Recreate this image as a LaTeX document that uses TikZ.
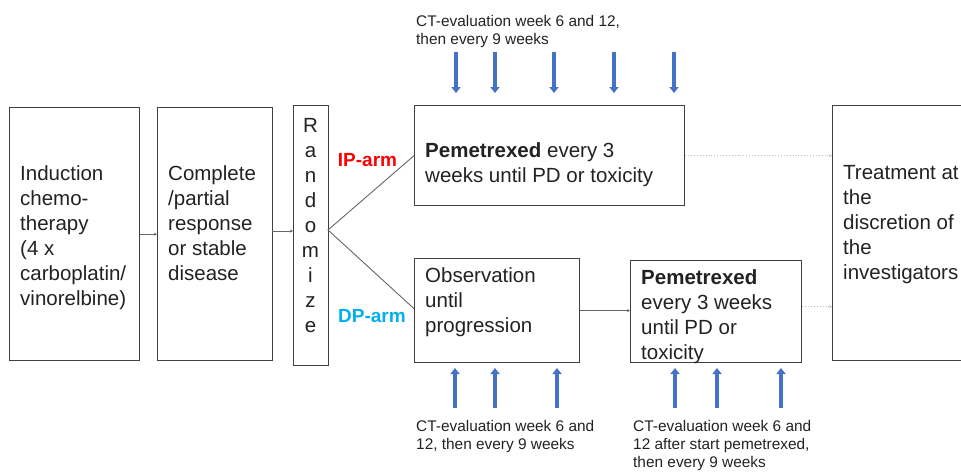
\documentclass[tikz,border=0pt]{standalone}
\usepackage{fontspec}
\setmainfont{Liberation Sans}
\usepackage{tikz}
\usetikzlibrary{calc,arrows.meta}

\definecolor{ink}{HTML}{222222}
\definecolor{frame}{HTML}{404040}
\definecolor{ctblue}{HTML}{4472C4}
\definecolor{iparm}{HTML}{FF0000}
\definecolor{dparm}{HTML}{00B0F0}

\begin{document}
\begin{tikzpicture}[
  x=1pt, y=-1pt,
  >=Stealth,
  box/.style={draw=frame, line width=1.3pt, inner sep=0pt, anchor=north west},
  body/.style={font=\fontsize{20.5}{25}\selectfont, text=ink, align=left,
    inner sep=0pt, anchor=base west},
  note/.style={font=\fontsize{15.4}{18}\selectfont, text=ink, align=left,
    inner sep=0pt, anchor=base west},
  link/.style={draw=frame!80, line width=0.9pt, -{Stealth[length=3pt,width=3pt]}},
  faint/.style={draw=black!25, line width=0.9pt, dotted, -{Stealth[length=3pt,width=3pt]}},
  ctarrow/.style={draw=ctblue, line width=3.5pt, -{Triangle[length=6pt,width=9pt]}},
  armlabel/.style={font=\fontsize{19}{21}\selectfont\bfseries, inner sep=0pt}
]
\clip (0,0) rectangle (961,472);

% --- Boxes ---
\node[box, minimum width=130, minimum height=253] (induct) at (9,107) {};
\node[box, minimum width=115, minimum height=253] (complete) at (157,107) {};
\node[box, minimum width=35, minimum height=260] (rand) at (293,105) {};
\node[box, minimum width=270, minimum height=100] (ip) at (414,105) {};
\node[box, minimum width=165, minimum height=104] (obs) at (414,258) {};
\node[box, minimum width=171, minimum height=102] (pem) at (630,260) {};
\node[box, minimum width=170, minimum height=255] (treat) at (832,105) {};

% --- Box texts (baseline of last line) ---
\node[body] (inducttxt) at (20,305)
  {Induction\\chemo-\\therapy\\(4 x\\carboplatin/\\vinorelbine)};
\node[body] (completetxt) at (168,280)
  {Complete\\/partial\\response\\or stable\\disease};
\node[body, align=center, anchor=base] (randtxt) at (310.5,332)
  {R\\a\\n\\d\\o\\m\\i\\z\\e};
\node[body] (iptxt) at (425,182)
  {\textbf{Pemetrexed} every 3\\weeks until PD or toxicity};
\node[body] (obstxt) at (425,332)
  {Observation\\until\\progression};
\node[body] (pemtxt) at (641,359)
  {\textbf{Pemetrexed}\\every 3 weeks\\until PD or\\toxicity};
\node[body] (treattxt) at (843,279)
  {Treatment at\\the\\discretion of\\the\\investigators};

% --- Arm labels ---
\node[armlabel, text=iparm] (iplabel) at (367.5,160) {IP-arm};
\node[armlabel, text=dparm] (dplabel) at (372,316) {DP-arm};

% --- Connectors ---
\coordinate (split) at (328,230);
\draw[link] (induct.east) -- (complete.west |- induct.east);
\draw[link] (complete.west |- 0,231) ++(115,0) coordinate (cout) -- (rand.west |- cout);
\draw[draw=frame!80, line width=0.9pt] (ip.west) -- (split) -- ($(obs.west)+(0,-2)$);
\draw[link] (obs.east) -- (pem.west |- obs.east);
\draw[faint] (ip.east) -- (treat.west |- ip.east);
\draw[faint] ($(pem.east)+(0,-5)$) coordinate (pout) -- (treat.west |- pout);

% --- CT evaluation arrows ---
\foreach \x [count=\i] in {456,495,554,614,674}{
  \coordinate (ts\i) at (\x,52);
  \coordinate (te\i) at (\x,93);
  \draw[ctarrow] (ts\i) -- (te\i);
}
\foreach \x [count=\i] in {455,495,557,675,717,781}{
  \coordinate (bs\i) at (\x,408);
  \coordinate (be\i) at (\x,368);
  \draw[ctarrow] (bs\i) -- (be\i);
}

% --- CT evaluation notes ---
\node[note] (topnote) at (416,44)
  {CT-evaluation week 6 and 12,\\then every 9 weeks};
\node[note] (obsnote) at (416,449)
  {CT-evaluation week 6 and\\12, then every 9 weeks};
\node[note] (pemnote) at (633,467)
  {CT-evaluation week 6 and\\12 after start pemetrexed,\\then every 9 weeks};

\end{tikzpicture}
\end{document}
